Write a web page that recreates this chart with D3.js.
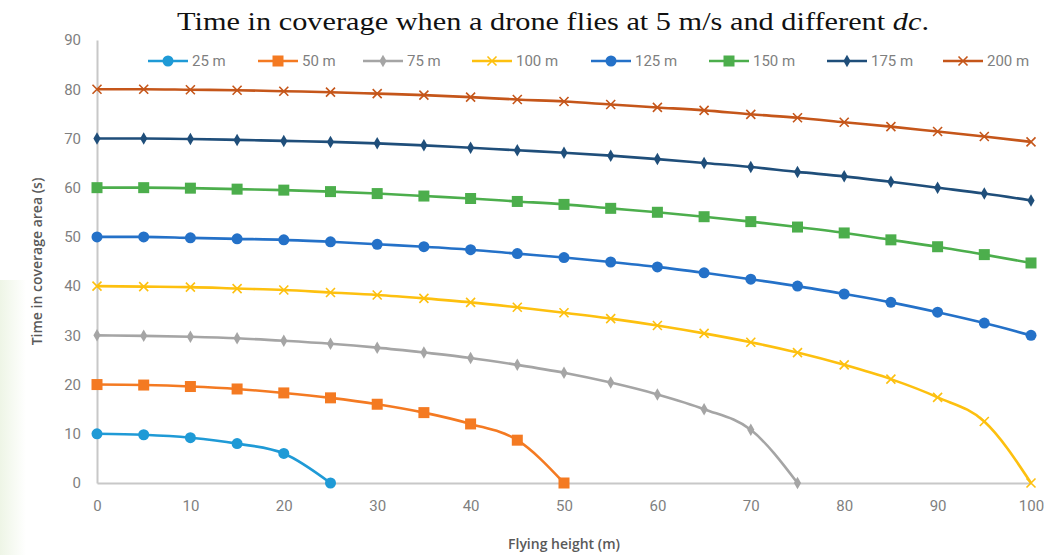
<!DOCTYPE html>
<html>
<head>
<meta charset="utf-8">
<script src="https://cdn.jsdelivr.net/npm/d3@7"></script>
<style>
  body { margin: 0; background: #fff; }
  .tick text { font-family: "Liberation Sans Narrow", "Roboto", sans-serif; fill: #7f7f7f; font-size: 15px; }
</style>
</head>
<body>
<div id="content"></div>
<script>
let width = 1045;
let height = 555;
let margin = ({top: 40, right: 14, bottom: 72, left: 97});

// flying heights (m), one point every 5 m
let heights = [0, 5, 10, 15, 20, 25, 30, 35, 40, 45, 50, 55, 60, 65, 70, 75, 80, 85, 90, 95, 100];
let seriesNames = ["25 m", "50 m", "75 m", "100 m", "125 m", "150 m", "175 m", "200 m"];

// time in coverage area (s) per dc
let t25 = [10, 9.8, 9.2, 8, 6, 0];
let t50 = [20, 19.9, 19.6, 19.1, 18.3, 17.3, 16, 14.3, 12, 8.7, 0];
let t75 = [30, 29.9, 29.7, 29.4, 28.9, 28.3, 27.5, 26.5, 25.4, 24, 22.4, 20.4, 18, 15, 10.8, 0];
let t100 = [40, 39.9, 39.8, 39.5, 39.2, 38.7, 38.2, 37.5, 36.7, 35.7, 34.6, 33.4, 32, 30.4, 28.6, 26.5, 24, 21.1, 17.4, 12.5, 0];
let t125 = [50, 50, 49.8, 49.6, 49.4, 49, 48.5, 48, 47.4, 46.6, 45.8, 44.9, 43.9, 42.7, 41.4, 40, 38.4, 36.7, 34.7, 32.5, 30];
let t150 = [60, 60, 59.9, 59.7, 59.5, 59.2, 58.8, 58.3, 57.8, 57.2, 56.6, 55.8, 55, 54.1, 53.1, 52, 50.8, 49.4, 48, 46.4, 44.7];
let t175 = [70, 70, 69.9, 69.7, 69.5, 69.3, 69, 68.6, 68.1, 67.6, 67.1, 66.5, 65.8, 65, 64.2, 63.2, 62.3, 61.2, 60, 58.8, 57.4];
let t200 = [80, 80, 79.9, 79.8, 79.6, 79.4, 79.1, 78.8, 78.4, 77.9, 77.5, 76.9, 76.3, 75.7, 74.9, 74.2, 73.3, 72.4, 71.4, 70.4, 69.3];

let xTicks = [0, 10, 20, 30, 40, 50, 60, 70, 80, 90, 100];
let yTicks = [0, 10, 20, 30, 40, 50, 60, 70, 80, 90];

let colors = ["#1f9ad6", "#f47a22", "#a5a5a5", "#fdc00f", "#2471c8", "#4cae4c", "#1f4e7a", "#c5561a"];
let symbols = ["circle", "square", "diamond", "cross", "circle", "square", "diamond", "cross"];

let allValues = [t25, t50, t75, t100, t125, t150, t175, t200];
let series = seriesNames.map(function(name, i) {
    return {name: name, color: colors[i], symbol: symbols[i],
        points: allValues[i].map(function(v, j) { return {h: heights[j], t: v}; })};
});

let svg = d3.select("#content")
    .append("svg")
    .attr("width", width)
    .attr("height", height);

// faint green tint on the left edge of the scan
let grad = svg.append("defs").append("linearGradient").attr("id", "edge")
    .attr("x1", 0).attr("x2", 1).attr("y1", 0).attr("y2", 0);
grad.append("stop").attr("offset", "0%").attr("stop-color", "#eef5e6");
grad.append("stop").attr("offset", "100%").attr("stop-color", "#ffffff");
svg.append("rect").attr("x", 0).attr("y", 280).attr("width", 26).attr("height", 275).attr("fill", "url(#edge)");

let xScale = d3.scaleLinear().domain([0, 100]).range([margin.left, width - margin.right]);
let yScale = d3.scaleLinear().domain([0, 90]).range([height - margin.bottom, margin.top]);

// Axes
let xAxis = svg.append("g")
    .attr("transform", "translate(0," + (height - margin.bottom) + ")")
    .call(d3.axisBottom(xScale).tickValues(xTicks).tickSize(0).tickPadding(17));
xAxis.select(".domain").attr("stroke", "#c8c8c8").attr("stroke-width", 2);

let yAxis = svg.append("g")
    .attr("transform", "translate(" + margin.left + ",0)")
    .call(d3.axisLeft(yScale).tickValues(yTicks).tickSize(0).tickPadding(16));
yAxis.select(".domain").attr("stroke", "#c8c8c8").attr("stroke-width", 2);

// Title
let title = svg.append("text")
    .attr("x", 553).attr("y", 30)
    .attr("text-anchor", "middle")
    .attr("textLength", 752)
    .attr("lengthAdjust", "spacingAndGlyphs")
    .style("font-family", "'Liberation Serif', serif")
    .style("font-size", "26px")
    .attr("fill", "#111");
title.append("tspan").text("Time in coverage when a drone flies at 5 m/s and different ");
title.append("tspan").style("font-style", "italic").text("dc");
title.append("tspan").text(".");

// Axis titles
svg.append("text")
    .attr("x", xScale(50)).attr("y", 549)
    .attr("text-anchor", "middle")
    .style("font-family", "'Open Sans', sans-serif")
    .style("font-size", "14px")
    .style("font-weight", "600")
    .attr("fill", "#595959")
    .text("Flying height (m)");

svg.append("text")
    .attr("transform", "translate(42," + yScale(45) + ") rotate(-90)")
    .attr("text-anchor", "middle")
    .style("font-family", "'Open Sans', sans-serif")
    .style("font-size", "14px")
    .style("font-weight", "600")
    .attr("fill", "#595959")
    .text("Time in coverage area (s)");

// Marker drawing
function drawMarker(g, symbol, color) {
    if (symbol === "circle") {
        g.append("circle").attr("r", 5.5).attr("fill", color);
    } else if (symbol === "square") {
        g.append("rect").attr("x", -5.5).attr("y", -5.5).attr("width", 11).attr("height", 11).attr("fill", color);
    } else if (symbol === "diamond") {
        g.append("path").attr("d", d3.symbol(d3.symbolDiamond, 45)()).attr("fill", color);
    } else {
        g.append("path").attr("d", "M-4.5,-4.5L4.5,4.5M-4.5,4.5L4.5,-4.5")
            .attr("stroke", color).attr("stroke-width", 1.6).attr("fill", "none");
    }
}

let line = d3.line()
    .x(function(d) { return xScale(d.h); })
    .y(function(d) { return yScale(d.t); })
    .curve(d3.curveMonotoneX);

series.forEach(function(s) {
    let g = svg.append("g");
    g.append("path")
        .datum(s.points)
        .attr("d", line)
        .attr("fill", "none")
        .attr("stroke", s.color)
        .attr("stroke-width", 2.6);
    g.selectAll(".marker")
        .data(s.points)
        .enter()
        .append("g")
        .attr("class", "marker")
        .attr("transform", function(d) { return "translate(" + xScale(d.h) + "," + yScale(d.t) + ")"; })
        .each(function() { drawMarker(d3.select(this), s.symbol, s.color); });
});

// Legend
let legendX = [148, 258, 363, 472, 591, 709, 827, 943];
series.forEach(function(s, i) {
    let lg = svg.append("g").attr("transform", "translate(" + legendX[i] + ",61)");
    lg.append("line").attr("x1", 0).attr("x2", 40).attr("y1", 0).attr("y2", 0)
        .attr("stroke", s.color).attr("stroke-width", 2.6);
    let m = lg.append("g").attr("transform", "translate(20,0)");
    drawMarker(m, s.symbol, s.color);
    lg.append("text")
        .attr("x", 44).attr("y", 5)
        .style("font-family", "'Liberation Sans Narrow', Roboto, sans-serif")
        .style("font-size", "15px")
        .attr("fill", "#7f7f7f")
        .text(s.name);
});
</script>
</body>
</html>
